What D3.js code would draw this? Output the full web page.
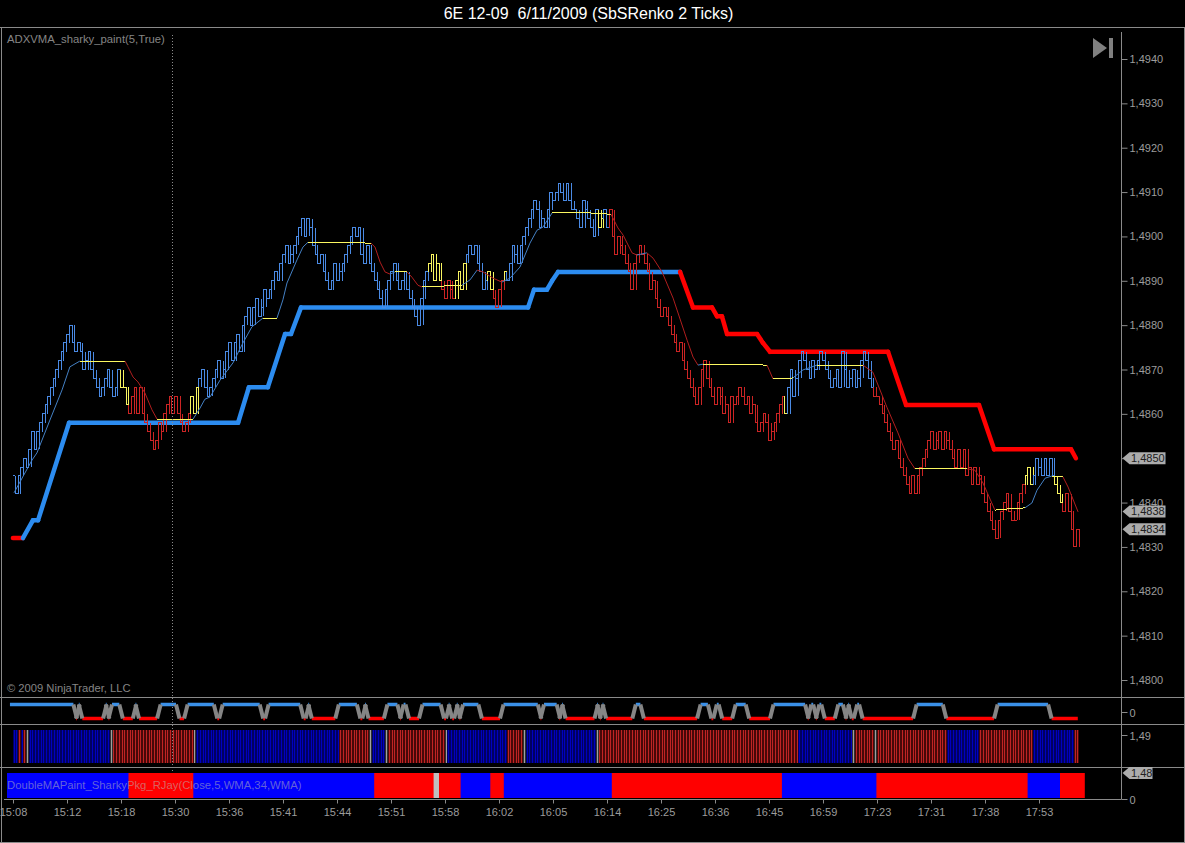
<!DOCTYPE html>
<html><head><meta charset="utf-8">
<script src="https://cdn.jsdelivr.net/npm/d3@7"></script>
<style>html,body{margin:0;padding:0;background:#000;overflow:hidden}svg{display:block}text{font-family:"Liberation Sans",Arial,sans-serif}</style>
</head><body><div id="c"></div>
<script>
// Price closes in ticks above 1.4800, one per Renko bar
const closeTicks = [
46,42,46,48,50,48,52,56,52,56,58,60,62,64,66,68,70,72,74,76,
78,80,76,74,76,74,70,72,74,70,68,66,64,66,68,70,66,64,66,70,
66,66,62,60,64,66,60,66,60,58,56,54,52,54,58,56,60,62,64,60,
64,60,58,56,58,60,64,60,66,68,70,66,64,66,68,70,72,68,70,74,
76,72,76,78,74,80,82,84,80,84,86,82,84,88,86,88,90,92,90,94,
96,98,94,96,98,100,102,104,100,104,102,98,96,94,96,92,90,88,90,94,
90,92,94,96,98,100,102,100,102,96,94,98,94,92,90,88,86,84,88,90,
92,94,90,88,90,92,88,86,84,82,80,86,90,92,94,96,90,94,90,88,
86,90,88,86,90,92,88,94,96,98,96,98,94,92,88,90,92,88,86,84,
88,90,92,90,94,98,96,94,98,100,102,104,106,108,106,102,104,102,106,110,
108,110,112,110,108,112,108,106,106,104,102,108,106,104,102,100,106,102,104,106,
102,106,100,96,100,98,96,94,92,88,94,96,98,96,94,92,88,90,86,84,
82,84,82,80,78,76,74,76,72,70,68,66,64,62,66,70,72,68,66,64,
62,66,64,60,62,58,64,62,64,66,64,62,64,60,62,58,56,58,60,58,
54,56,58,60,62,64,60,66,70,64,68,72,74,72,70,68,72,70,72,74,
72,70,68,66,68,70,66,74,70,66,68,70,66,68,72,74,72,68,66,64,
64,62,60,58,56,54,52,54,50,48,46,44,42,46,42,46,48,50,52,54,
56,52,54,56,52,56,54,52,50,48,52,48,52,46,48,44,48,44,46,42,
40,38,36,34,32,36,38,40,42,38,36,36,40,42,44,46,48,44,46,50,
48,46,50,46,50,46,44,42,40,38,42,38,34,30,34];
const barRunStart = [0,40,43,66,69,154,159,164,168,176,178,182,183,217,219,221,286,287,319,375,378,386,389];
const barRunKind  = "BYRYBYRYBYRYBYBRYBRYBYR".split("");

// Moving average: bar index, ticks above 1.4800
const maBar = [0,6.7,8.5,13.3,17.8,20.7,24.4,41.1,42.2,44.1,45.9,48.5,51.1,53,66.3,68.9,70.7,72.6,76.3,81.1,84.8,88.1,92.2,97.4,99.6,101.1,104.8,107,108.9,132.2,133.7,135.6,137.4,139.3,141.1,145.6,147.4,149.6,151.1,165.9,168.9,171.5,173.7,177.4,180.7,183.7,187.4,191.1,193.7,195.9,199.3,213.3,221.1,223.7,225.6,228.9,230.7,234.4,236.7,240,244.1,249.3,251.5,253.3,255.2,278.9,281.1,285.6,288.5,292.2,297.4,314.4,318.1,323.3,327.4,331.1,333.7,353,355.9,358.9,363.3,366.3,374.4,377,378.9,381.9,384.4,388.5,390.4,394.1];
const maTicks = [42.2,49.6,51.2,58.6,65.4,70.6,71.9,71.9,70.6,68.3,67.2,64.7,60.9,58.8,58.8,61.3,63.3,63.8,67.6,71.5,76,79.6,81.6,81.6,85.7,89.5,94.7,97.6,98.7,98.5,97.6,94.2,92,91.5,92,92,90.8,89,88.6,89,90.2,92.4,92,90.6,89.7,90.6,93.1,98.5,101.4,102.1,105.3,105.3,105,101.9,100.3,96.3,95.8,96.3,95.1,92,86.1,76.6,72.8,71,71.2,71,67.9,67.9,68.1,69.9,71,71,69.4,61.5,55.7,50,47.6,47.6,47.3,44.4,38.3,38.5,38.8,39.9,42.8,45.5,46,45.8,43.5,37.9];

// Thick adaptive trend line
const trendBar = [-0.4,3.3,7,8.9,20.4,83,87,94,100.4,102.6,106.3,190.4,192.6,197.4,199.3,201.5,246.7,251.5,258.5,260.4,262.2,264.1,275.2,277.4,280,323.7,330.4,357.4,363,391.5,393.3];
const trendTicks = [32,32,36,36,58,58,66,66,78,78,84,84,88,88,90,92,92,84,84,82,82,78,78,76,74,74,62,62,52,52,50];
const trendKind = "RBBBBBBBBBBBBBBBRRRRRRRRRRRRRR".split("");

// Oscillator panel: bars at which the state flips
const oscFlips = [22,23,24,33,34,35,39,44,45,53,60,63,74,76,91,93,106,108,109,119,127,129,130,137,142,143,145,150,158,160,161,163,164,165,172,180,194,195,201,202,203,215,216,217,218,229,232,253,257,259,261,266,271,280,293,294,296,297,299,304,307,308,309,311,313,333,344,363,383];

// Stripe panel runs
const stripeStart = [0,2,3,4,5,6,36,37,67,68,121,132,133,138,139,160,161,183,189,190,216,217,291,311,312,319,320,346,358,378,393];
const stripeKind  = "BRBRGBGRGBRGBGRGBRGBGRBGRGRBRBR".split("");

// Double MA block runs
const blockStart = [0,45,69,136,158,160,168,179,184,224,287,322,378,390];
const blockKind  = "BRBRGRBRBRBRBR".split("");

const priceTicks = [1.4800,1.4810,1.4820,1.4830,1.4840,1.4850,1.4860,1.4870,1.4880,1.4890,1.4900,1.4910,1.4920,1.4930,1.4940];
const timeLabels = ["15:08","15:12","15:18","15:30","15:36","15:41","15:44","15:51","15:58","16:02","16:05","16:14","16:25","16:36","16:45","16:59","17:23","17:31","17:38","17:53"];
const flagValues = [1.4850,1.4838,1.4834];

const W=1185,H=843,gray="#8a8a8a",tickCol="#9c9c9c";
const svg=d3.select("#c").append("svg").attr("width",W).attr("height",H);
svg.append("rect").attr("width",W).attr("height",H).attr("fill","#000");
const x=d3.scaleLinear().domain([0,394]).range([14,1077.8]);
const y=d3.scaleLinear().domain([1.48,1.494]).range([680,59]);
const price=t=>1.48+t/10000;
const fmt=v=>v.toFixed(4).replace(".",",");
const runKind=(starts,kinds,i)=>kinds[d3.bisectRight(starts,i)-1];
const col={B:"#4a8ae4",R:"#cc2424",Y:"#f8f460"};
const barStep=x(1)-x(0);

// Frame
const frame=svg.append("g").attr("stroke",gray).attr("stroke-width",1);
[[0,27.5,W,27.5],[0,697.5,W,697.5],[0,724.5,W,724.5],[0,767.5,W,767.5],[4,799.5,1121,799.5],[1121.5,32,1121.5,799.5],[1.5,27,1.5,H],[1184.5,27,1184.5,H],[0,842.5,W,842.5]]
 .forEach(d=>frame.append("line").attr("x1",d[0]).attr("y1",d[1]).attr("x2",d[2]).attr("y2",d[3]));

// Double MA blocks
const yBlock=d3.scaleLinear().domain([0,1]).range([798,773]);
svg.append("g").selectAll("rect").data(closeTicks).join("rect")
 .attr("x",(d,i)=>x(i)-7).attr("width",14).attr("y",yBlock(1)).attr("height",yBlock(0)-yBlock(1))
 .attr("fill",(d,i)=>({B:"#0000ff",R:"#ff0000",G:"#c0c0c0"})[runKind(blockStart,blockKind,i)]);

// Stripes
const yStripe=d3.scaleLinear().domain([0,1]).range([763,730]);
const gStripe=svg.append("g").attr("shape-rendering","crispEdges");
gStripe.selectAll("rect").data(closeTicks).join("rect")
 .attr("x",(d,i)=>x(i)-barStep/2).attr("width",barStep).attr("y",yStripe(1)).attr("height",yStripe(0)-yStripe(1))
 .attr("fill",(d,i)=>({B:"#000060",R:"#480808",G:"#303030"})[runKind(stripeStart,stripeKind,i)]);
gStripe.selectAll("line").data(closeTicks).join("line")
 .attr("x1",(d,i)=>x(i)).attr("x2",(d,i)=>x(i)).attr("y1",yStripe(0)).attr("y2",yStripe(1))
 .attr("stroke-width",1)
 .attr("stroke",(d,i)=>({B:"#0000c0",R:"#c02424",G:"#a0a0a0"})[runKind(stripeStart,stripeKind,i)]);

// Oscillator
const yOsc=d3.scaleLinear().domain([-1,1]).range([718.5,704.5]);
const gOsc=svg.append("g").attr("fill","none");
let st=1,last=-1.5;
const flatsOsc=[],slopes=[];
oscFlips.concat([394]).forEach((f,k)=>{
  flatsOsc.push({a:last,b:f,s:st});
  if(k<oscFlips.length){slopes.push({a:f,b:f+1.3,from:st,to:-st});st=-st;last=f+1.3;}
});
gOsc.selectAll("line.f").data(flatsOsc).join("line").attr("class","f")
 .attr("x1",d=>x(d.a)).attr("x2",d=>x(d.b)).attr("y1",d=>yOsc(d.s)).attr("y2",d=>yOsc(d.s))
 .attr("stroke",d=>d.s>0?"#3a90e8":"#ff0000").attr("stroke-width",3.5);
gOsc.selectAll("line.s").data(slopes).join("line").attr("class","s")
 .attr("x1",d=>x(d.a)).attr("x2",d=>x(d.b)).attr("y1",d=>yOsc(d.from)).attr("y2",d=>yOsc(d.to))
 .attr("stroke","#858585").attr("stroke-width",4);

// Thick trend line
const gTrend=svg.append("g").attr("stroke-linecap","round");
d3.pairs(d3.range(trendBar.length)).forEach(([a,b])=>{
  gTrend.append("line").attr("x1",x(trendBar[a])).attr("y1",y(price(trendTicks[a])))
   .attr("x2",x(trendBar[b])).attr("y2",y(price(trendTicks[b])))
   .attr("stroke",trendKind[a]==="B"?"#2c8cf0":"#ff0000").attr("stroke-width",4.5);
});

// Renko bars: both sides from open (previous close) to close, capped at the close
const gBars=svg.append("g").attr("fill","none").attr("stroke-width",1).attr("shape-rendering","crispEdges");
gBars.selectAll("path").data(closeTicks).join("path")
 .attr("d",(d,i)=>{
   const o=y(price(i?closeTicks[i-1]:d)),c=y(price(d)),l=x(i)-barStep/2,r=x(i)+barStep/2;
   const p=d3.path();p.moveTo(l,o);p.lineTo(l,c);p.lineTo(r,c);p.lineTo(r,o);return p.toString();
 })
 .attr("stroke",(d,i)=>col[runKind(barRunStart,barRunKind,i)]);

// MA line
const gMa=svg.append("g").attr("fill","none");
d3.pairs(d3.range(maBar.length)).forEach(([a,b])=>{
  const s=(maTicks[b]-maTicks[a])/(maBar[b]-maBar[a]);
  const flat=Math.abs(s)<0.09;
  const k=flat?"#fcf860":(s>0?"#4480c4":"#b01e1e");
  gMa.append("line").attr("x1",x(maBar[a])).attr("y1",y(price(maTicks[a])))
   .attr("x2",x(maBar[b])).attr("y2",y(price(maTicks[b]))).attr("stroke",k).attr("stroke-width",1)
   .attr("shape-rendering",flat?"crispEdges":"auto");
});

// Cursor
svg.append("line").attr("x1",172.5).attr("x2",172.5).attr("y1",35).attr("y2",772)
 .attr("stroke","#8a8a8a").attr("stroke-dasharray","1,2");

// Axes
const yAxis=d3.axisRight(y).tickValues(priceTicks).tickFormat(fmt).tickSize(6).tickPadding(2);
const ga=svg.append("g").attr("transform","translate(1121.5,0)").call(yAxis);
ga.select(".domain").remove();
ga.selectAll("line").attr("stroke",gray);
ga.selectAll("text").attr("fill",tickCol).attr("font-size",11);

const panelTicks=svg.append("g").attr("transform","translate(1121.5,0)");
[[712,"0"],[735,"1,49"],[799,"0"]].forEach(d=>{
  panelTicks.append("line").attr("x1",0).attr("x2",6).attr("y1",d[0]+.5).attr("y2",d[0]+.5).attr("stroke",gray);
  panelTicks.append("text").attr("x",8).attr("y",d[0]+4.5).attr("fill",tickCol).attr("font-size",11).text(d[1]);
});

const timeBars=timeLabels.map((d,i)=>i*20);
const xAxis=d3.axisBottom(x).tickValues(timeBars).tickFormat((d,i)=>timeLabels[i]).tickSize(4).tickPadding(5);
const gx=svg.append("g").attr("transform","translate(-1,799.5)").call(xAxis);
gx.select(".domain").remove();
gx.selectAll("line").attr("stroke",gray);
gx.selectAll("text").attr("fill",tickCol).attr("font-size",11);

// Price flags
const flag=(v,py,wd,label)=>{
  const g=svg.append("g").attr("transform",`translate(1122.5,${py})`);
  g.append("path").attr("d",`M0,0L7,-6L${wd},-6L${wd},6L7,6Z`).attr("fill","#acacac");
  g.append("text").attr("x",8.5).attr("y",4).attr("font-size",11).attr("fill","#202020").text(label);
};
flagValues.forEach(v=>flag(v,y(v),43,fmt(v)));
flag(1.48,773,30,"1,48");

// End-of-chart icon
svg.append("path").attr("d","M1093,38L1107,48L1093,58Z").attr("fill","#808080");
svg.append("rect").attr("x",1109).attr("y",38).attr("width",4).attr("height",20).attr("fill","#808080");

// Text
svg.append("text").attr("x",588.5).attr("y",18.5).attr("text-anchor","middle").attr("fill","#fff").attr("font-size",16).attr("xml:space","preserve").text("6E 12-09  6/11/2009 (SbSRenko 2 Ticks)");
svg.append("text").attr("x",7).attr("y",43).attr("fill","#858585").attr("font-size",11.3).text("ADXVMA_sharky_paint(5,True)");
svg.append("text").attr("x",7).attr("y",692).attr("fill","#858585").attr("font-size",11.2).text("© 2009 NinjaTrader, LLC");
svg.append("text").attr("x",7).attr("y",789).attr("fill","#b8b8b8").attr("fill-opacity",.55).attr("font-size",11.3).text("DoubleMAPaint_SharkyPkg_RJay(Close,5,WMA,34,WMA)");
</script></body></html>
